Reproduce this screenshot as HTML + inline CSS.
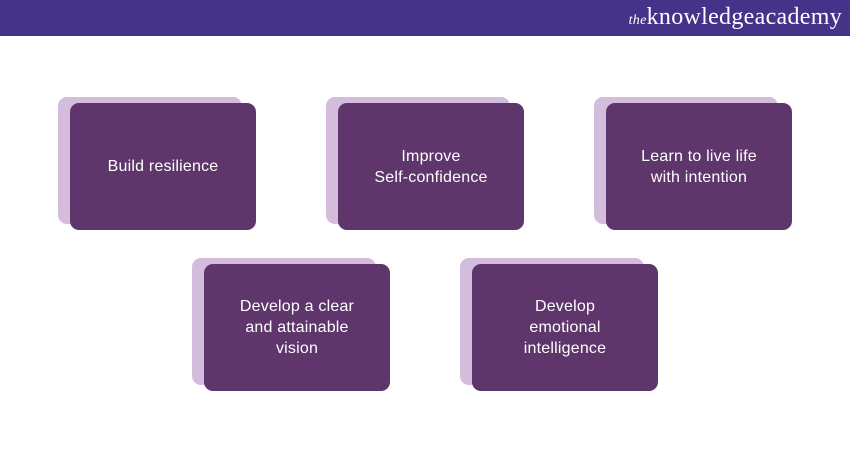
<!DOCTYPE html><html><head><style>
body{margin:0;width:850px;height:450px;background:#fff;position:relative;overflow:hidden;font-family:"Liberation Sans",sans-serif}
.h{position:absolute;left:0;top:0;width:850px;height:36px;background:#45338a}
.logo{position:absolute;right:8px;top:4px;color:#fff;font-family:"Liberation Serif",serif;font-size:24px;letter-spacing:0.3px}
.logo i{font-size:14px}
.b{position:absolute;width:186px;height:127px;border-radius:9px}
.bk{background:#d4bcdc}
.fr{background:#5e366b;color:#fff;display:flex;align-items:center;justify-content:center;text-align:center;font-size:16px;line-height:21px;letter-spacing:0.2px}
</style></head><body>
<div class="h"><div class="logo"><i>the</i>knowledgeacademy</div></div>
<div class="b bk" style="left:58px;top:97px;width:184px"></div><div class="b fr" style="left:70px;top:103px">Build resilience</div>
<div class="b bk" style="left:326px;top:97px;width:184px"></div><div class="b fr" style="left:338px;top:103px">Improve<br>Self-confidence</div>
<div class="b bk" style="left:594px;top:97px;width:184px"></div><div class="b fr" style="left:606px;top:103px">Learn to live life<br>with intention</div>
<div class="b bk" style="left:192px;top:258px;width:184px"></div><div class="b fr" style="left:204px;top:264px">Develop a clear<br>and attainable<br>vision</div>
<div class="b bk" style="left:460px;top:258px;width:184px"></div><div class="b fr" style="left:472px;top:264px">Develop<br>emotional<br>intelligence</div>
</body></html>
